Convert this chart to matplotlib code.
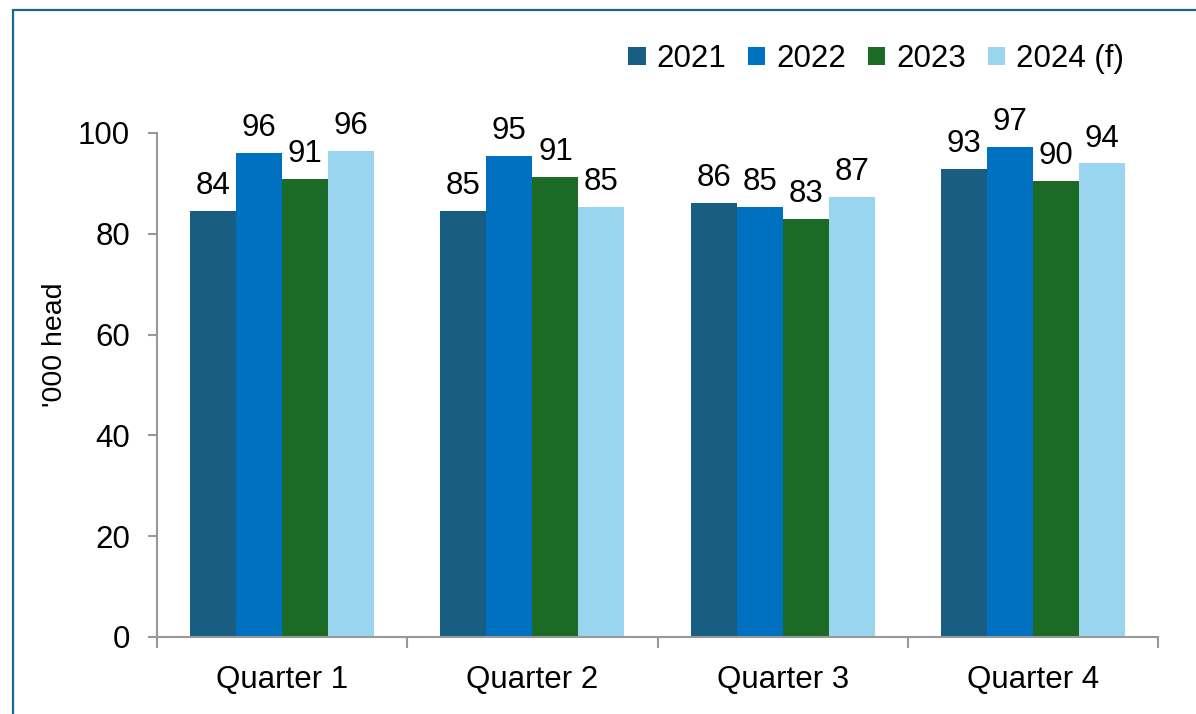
import numpy as np
import matplotlib.pyplot as plt
from matplotlib.patches import Rectangle

plt.rcParams["font.family"] = ["Liberation Sans", "DejaVu Sans"]

quarters = ["Quarter 1", "Quarter 2", "Quarter 3", "Quarter 4"]
years = ["2021", "2022", "2023", "2024 (f)"]
values = {
    "2021": [84.5, 84.6, 86.1, 92.9],
    "2022": [96.0, 95.4, 85.3, 97.2],
    "2023": [90.9, 91.3, 82.9, 90.5],
    "2024 (f)": [96.4, 85.3, 87.3, 94.0],
}
colors = ["#175e82", "#0070c0", "#1b6b27", "#99d5ee"]

fig = plt.figure(figsize=(11.96, 7.14), dpi=100)
ax = fig.add_axes([157 / 1196, 1 - 637 / 714, (1158 - 157) / 1196, (637 - 133) / 714])

# outer frame, cropped on the right and bottom like the source image
fig.patches.append(Rectangle((13 / 1196, -0.1), 1.2, 1 - 10 / 714 + 0.1,
                             transform=fig.transFigure, fill=False,
                             edgecolor="#1d668f", linewidth=1.6))

x = np.arange(len(quarters))
width = 0.184
for i, (year, color) in enumerate(zip(years, colors)):
    pos = x + (i - 1.5) * width
    bars = ax.bar(pos, values[year], width, color=color, label=year)
    for b, v in zip(bars, values[year]):
        ax.annotate(f"{v:.0f}", (b.get_x() + b.get_width() / 2, v),
                    xytext=(0, 7), textcoords="offset points",
                    ha="center", va="bottom", fontsize=22.5, clip_on=False)

ax.set_xlim(-0.5, 3.5)
ax.set_ylim(0, 100)
ax.set_yticks([0, 20, 40, 60, 80, 100])
ax.set_xticks(x)
ax.set_xticklabels(quarters)
ax.set_xticks(np.arange(-0.5, 4, 1), minor=True)
ax.tick_params(axis="x", which="major", length=0, pad=20, labelsize=22.5)
ax.tick_params(axis="x", which="minor", length=8, width=1.5, color="#989898")
ax.tick_params(axis="y", length=6.5, width=1.5, color="#989898", labelsize=22.5, pad=13)
for side in ["top", "right"]:
    ax.spines[side].set_visible(False)
for side in ["left", "bottom"]:
    ax.spines[side].set_color("#989898")
    ax.spines[side].set_linewidth(1.5)

fig.text(55 / 1196, 1 - 345 / 714, "'000 head", rotation=90,
         ha="center", va="center", fontsize=20.5)

fig.legend(loc="center right", bbox_to_anchor=(1152 / 1196, 1 - 59 / 714),
           ncol=4, frameon=False, fontsize=22.5, handlelength=0.55,
           handleheight=0.55, handletextpad=0.35, columnspacing=0.7)

fig.savefig("out.png", dpi=100)
